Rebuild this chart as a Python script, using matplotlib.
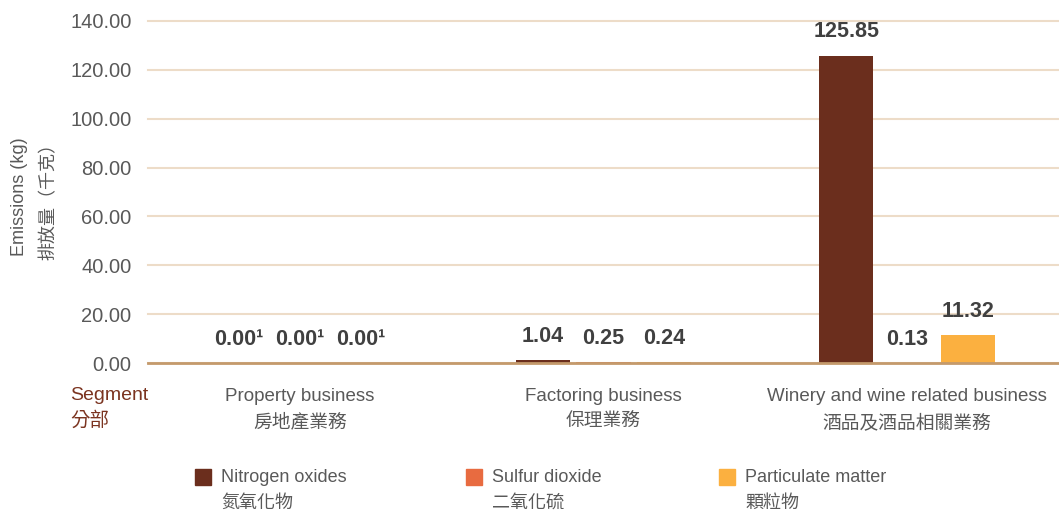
import matplotlib.pyplot as plt
from matplotlib.patches import Rectangle
import numpy as np

plt.rcParams['font.family'] = ['Liberation Sans', 'Noto Sans CJK TC', 'DejaVu Sans']

# data
segments = ['Property business', 'Factoring business', 'Winery and wine related business']
segments_zh = ['房地產業務', '保理業務', '酒品及酒品相關業務']
series = ['Nitrogen oxides', 'Sulfur dioxide', 'Particulate matter']
series_zh = ['氮氧化物', '二氧化硫', '顆粒物']
nox = [0.00, 1.04, 125.85]
so2 = [0.00, 0.25, 0.13]
pm = [0.00, 0.24, 11.32]
value_labels = [['0.00¹', '1.04', '125.85'],
                ['0.00¹', '0.25', '0.13'],
                ['0.00¹', '0.24', '11.32']]
colors = ['#6b2e1d', '#e86b40', '#fbb040']
yticks = [0, 20, 40, 60, 80, 100, 120, 140]

fig = plt.figure(figsize=(10.59, 5.12), dpi=100)
ax = fig.add_axes([0.1398, 0.291, 0.8602, 0.668])

x = np.arange(len(segments))
step = 0.2
width = 0.178
for i, vals in enumerate([nox, so2, pm]):
    pos = x + (i - 1) * step
    ax.bar(pos, vals, width=width, color=colors[i], zorder=3)
    for p, v, lab in zip(pos, vals, value_labels[i]):
        ax.annotate(lab, (p, v), xytext=(0, 17), textcoords='offset points',
                    ha='center', va='center', fontsize=15.5, fontweight='bold',
                    color='#404040', zorder=4)

ax.set_xlim(-0.5, 2.5)
ax.set_ylim(0, 140)
ax.set_yticks(yticks)
ax.set_yticklabels(['%.2f' % t for t in yticks])
ax.tick_params(axis='y', length=0, pad=12, labelsize=14.5, labelcolor='#595959')
ax.set_xticks(x)
ax.set_xticklabels([])
ax.tick_params(axis='x', length=0)
ax.grid(axis='y', color='#eddcc8', linewidth=1.5, zorder=0)
for gl in ax.get_ygridlines():
    gl.set_clip_on(False)
for s in ['top', 'right', 'left']:
    ax.spines[s].set_visible(False)
ax.spines['bottom'].set_color('#c49a6c')
ax.spines['bottom'].set_linewidth(2)
ax.spines['bottom'].set_zorder(5)

# category labels (english + chinese)
for xi, en, zh in zip(x, segments, segments_zh):
    ax.annotate(en, (xi, 0), xycoords=('data', 'axes fraction'), xytext=(0, -24),
                textcoords='offset points', ha='center', va='center',
                fontsize=13.5, color='#595959', annotation_clip=False)
    ax.annotate(zh, (xi, 0), xycoords=('data', 'axes fraction'), xytext=(0, -43),
                textcoords='offset points', ha='center', va='center',
                fontsize=13.5, color='#595959', annotation_clip=False)

# y label, two lines
fig.text(20 / 1059, 1 - 197 / 512, 'Emissions (kg)', rotation=90, ha='center', va='center',
         fontsize=13, color='#595959')
fig.text(49 / 1059, 1 - 197 / 512, '排放量（千克）', rotation=90, ha='center', va='center',
         fontsize=13, color='#595959')

# segment label
fig.text(70 / 1059, 1 - 395 / 512, 'Segment', ha='left', va='center', fontsize=14, color='#7b3420')
fig.text(70 / 1059, 1 - 421 / 512, '分部', ha='left', va='center', fontsize=14, color='#7b3420')

# legend
leg_x = [195, 466, 719]
for lx, c, en, zh in zip(leg_x, colors, series, series_zh):
    fig.patches.append(Rectangle((lx / 1059, 1 - 485 / 512), 16 / 1059, 16 / 512,
                                 transform=fig.transFigure, color=c))
    fig.text((lx + 26) / 1059, 1 - 477 / 512, en, ha='left', va='center', fontsize=13, color='#595959')
    fig.text((lx + 26) / 1059, 1 - 503 / 512, zh, ha='left', va='center', fontsize=13, color='#595959')

fig.savefig('out.png', dpi=100)
